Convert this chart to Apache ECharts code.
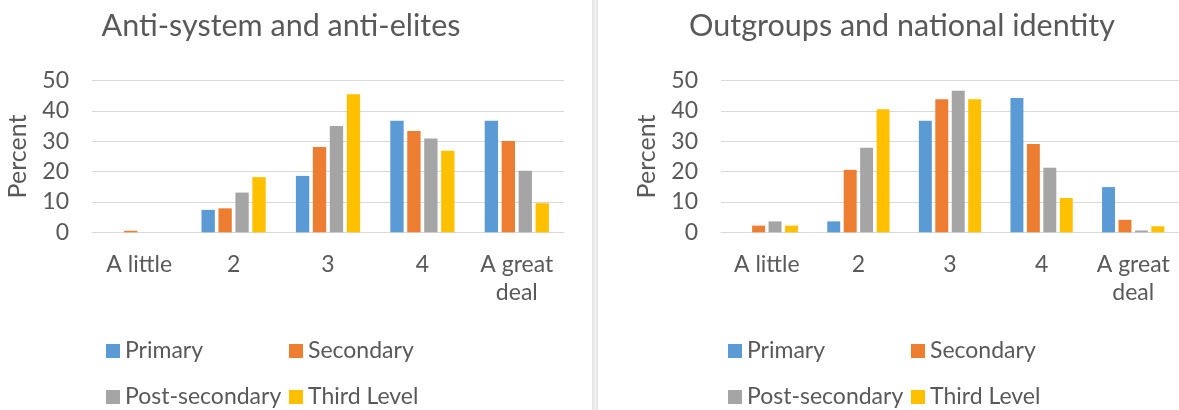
<!DOCTYPE html>
<html>
<head>
<meta charset="utf-8">
<script src="https://cdn.jsdelivr.net/npm/echarts@6/dist/echarts.min.js"></script>
<style>
  html, body { margin: 0; padding: 0; background: #ffffff; }
  #chart { width: 1179px; height: 410px; }
</style>
</head>
<body>
<div id="chart"></div>
<script>
const categories = ['A little', '2', '3', '4', 'A great deal'];
const seriesNames = ['Primary', 'Secondary', 'Post-secondary', 'Third Level'];
const titles = ['Anti-system and anti-elites', 'Outgroups and national identity'];
const yTicks = [0, 10, 20, 30, 40, 50];
const yAxisName = 'Percent';

const antiPrimary       = [0,   7.4, 18.6, 36.8, 36.8];
const antiSecondary     = [0.5, 7.9, 28.1, 33.4, 30.1];
const antiPostSecondary = [0,  13.1, 35.1, 30.9, 20.3];
const antiThirdLevel    = [0,  18.2, 45.5, 26.9,  9.6];

const outPrimary       = [0,    3.6, 36.8, 44.3, 14.9];
const outSecondary     = [2.2, 20.6, 43.9, 29.1,  4.1];
const outPostSecondary = [3.6, 27.9, 46.7, 21.3,  0.6];
const outThirdLevel    = [2.2, 40.6, 43.9, 11.3,  2.0];

const colors = ['#5B9BD5', '#ED7D31', '#A5A5A5', '#FFC000'];
const textColor = '#595959';
const gridColor = '#D9D9D9';
const FONT = 'Lato';

const panelData = [
  [antiPrimary, antiSecondary, antiPostSecondary, antiThirdLevel],
  [outPrimary, outSecondary, outPostSecondary, outThirdLevel]
];

const grids = [
  { left: 92, right: 615, top: 80.7, bottom: 177.7 },
  { left: 721, right: -2, top: 80.7, bottom: 177.7 }
];

const xAxes = grids.map((g, i) => ({
  type: 'category',
  gridIndex: i,
  data: categories,
  axisLine: { lineStyle: { color: gridColor, width: 1 } },
  axisTick: { show: false },
  axisLabel: {
    color: textColor, fontFamily: FONT, fontSize: 23, lineHeight: 28, margin: 18,
    interval: 0,
    formatter: v => v.replace(' deal', '\ndeal')
  }
}));

const yAxes = grids.map((g, i) => ({
  type: 'value',
  gridIndex: i,
  min: yTicks[0], max: yTicks[yTicks.length - 1], interval: yTicks[1] - yTicks[0],
  name: yAxisName,
  nameLocation: 'middle',
  nameGap: 62,
  nameTextStyle: { color: textColor, fontFamily: FONT, fontSize: 25, lineHeight: 24 },
  axisLine: { show: false },
  axisTick: { show: false },
  splitLine: { lineStyle: { color: gridColor, width: 1 } },
  axisLabel: { color: textColor, fontFamily: FONT, fontSize: 23, margin: 23 }
}));

const series = [];
panelData.forEach((arrs, p) => {
  arrs.forEach((arr, k) => {
    series.push({
      type: 'bar',
      name: seriesNames[k],
      xAxisIndex: p, yAxisIndex: p,
      data: arr,
      itemStyle: { color: colors[k] },
      barGap: '27%',
      barCategoryGap: '32%',
      animation: false
    });
  });
});

const legendPos = [
  [[106, 339.5], [289, 339.5], [106, 385.5], [289, 385.5]],
  [[728, 339.5], [911, 339.5], [728, 385.5], [911, 385.5]]
];
const legends = [];
legendPos.forEach(panel => {
  panel.forEach((pos, k) => {
    legends.push({
      left: pos[0], top: pos[1],
      data: [seriesNames[k]],
      icon: 'rect',
      itemWidth: 14, itemHeight: 14,
      padding: 0,
      selectedMode: false,
      textStyle: { color: textColor, fontFamily: FONT, fontSize: 23, lineHeight: 22 }
    });
  });
});

const option = {
  backgroundColor: '#ffffff',
  animation: false,
  color: colors,
  grid: grids,
  xAxis: xAxes,
  yAxis: yAxes,
  legend: legends,
  series: series,
  graphic: [
    { type: 'rect', shape: { x: 592, y: 0, width: 6, height: 410 }, style: { fill: '#E6E6E6' }, silent: true },
    { type: 'rect', shape: { x: 594.5, y: 0, width: 1.5, height: 410 }, style: { fill: '#F4F4F4' }, silent: true },
    { type: 'text', x: 281, y: 26, style: { text: titles[0], fill: textColor, font: '30.5px ' + FONT, align: 'center', verticalAlign: 'middle' } },
    { type: 'text', x: 902, y: 26, style: { text: titles[1], fill: textColor, font: '30.5px ' + FONT, align: 'center', verticalAlign: 'middle' } }
  ]
};

const chart = echarts.init(document.getElementById('chart'), null, { renderer: 'canvas' });
chart.setOption(option);
</script>
</body>
</html>
